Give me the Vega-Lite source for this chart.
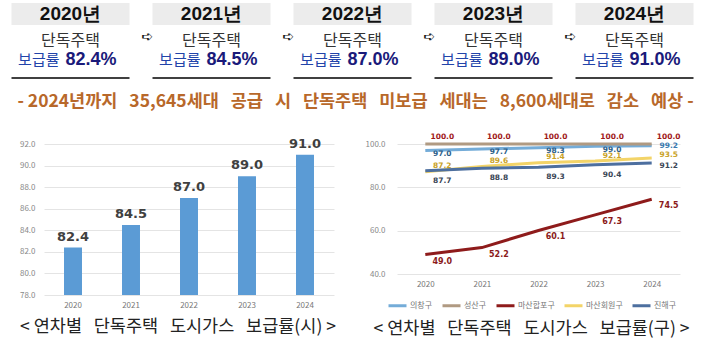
{
  "$schema": "https://vega.github.io/schema/vega-lite/v6.json",
  "background": "white",
  "padding": {"left": 0, "top": 3, "right": 0, "bottom": 0},
  "config": {"view": {"stroke": null}, "font": "Noto Sans CJK KR", "axis": {"labelFont": "Noto Sans CJK KR"}},
  "datasets": {
    "rates": [
      {"연도": "2020", "연도표기": "2020년", "보급률": 82.4, "라벨": "82.4%"},
      {"연도": "2021", "연도표기": "2021년", "보급률": 84.5, "라벨": "84.5%"},
      {"연도": "2022", "연도표기": "2022년", "보급률": 87.0, "라벨": "87.0%"},
      {"연도": "2023", "연도표기": "2023년", "보급률": 89.0, "라벨": "89.0%"},
      {"연도": "2024", "연도표기": "2024년", "보급률": 91.0, "라벨": "91.0%"}
    ],
    "gu": [
      {"구": "의창구", "연도": "2020", "보급률": 97.0},
      {"구": "의창구", "연도": "2021", "보급률": 97.7},
      {"구": "의창구", "연도": "2022", "보급률": 98.3},
      {"구": "의창구", "연도": "2023", "보급률": 99.0},
      {"구": "의창구", "연도": "2024", "보급률": 99.2},
      {"구": "성산구", "연도": "2020", "보급률": 100.0},
      {"구": "성산구", "연도": "2021", "보급률": 100.0},
      {"구": "성산구", "연도": "2022", "보급률": 100.0},
      {"구": "성산구", "연도": "2023", "보급률": 100.0},
      {"구": "성산구", "연도": "2024", "보급률": 100.0},
      {"구": "마산합포구", "연도": "2020", "보급률": 49.0},
      {"구": "마산합포구", "연도": "2021", "보급률": 52.2},
      {"구": "마산합포구", "연도": "2022", "보급률": 60.1},
      {"구": "마산합포구", "연도": "2023", "보급률": 67.3},
      {"구": "마산합포구", "연도": "2024", "보급률": 74.5},
      {"구": "마산회원구", "연도": "2020", "보급률": 87.2},
      {"구": "마산회원구", "연도": "2021", "보급률": 89.6},
      {"구": "마산회원구", "연도": "2022", "보급률": 91.4},
      {"구": "마산회원구", "연도": "2023", "보급률": 92.1},
      {"구": "마산회원구", "연도": "2024", "보급률": 93.5},
      {"구": "진해구", "연도": "2020", "보급률": 87.7},
      {"구": "진해구", "연도": "2021", "보급률": 88.8},
      {"구": "진해구", "연도": "2022", "보급률": 89.3},
      {"구": "진해구", "연도": "2023", "보급률": 90.4},
      {"구": "진해구", "연도": "2024", "보급률": 91.2}
    ]
  },
  "columns": 1,
  "align": "none",
  "spacing": 22,
  "resolve": {"legend": {"color": "independent"}},
  "concat": [
    {
      "width": 661,
      "height": 64,
      "data": {"name": "rates"},
      "title": {
        "text": "- 2024년까지\u00a0\u00a0 35,645세대\u00a0\u00a0 공급\u00a0\u00a0 시\u00a0\u00a0 단독주택\u00a0\u00a0 미보급\u00a0\u00a0 세대는\u00a0\u00a0 8,600세대로\u00a0\u00a0 감소\u00a0\u00a0 예상 -",
        "orient": "bottom", "offset": 14, "fontSize": 17.5, "fontWeight": "bold",
        "color": "#b8682a", "anchor": "middle", "dx": -19
      },
      "encoding": {
        "x": {"field": "연도", "type": "nominal", "scale": {"type": "band", "paddingInner": 0, "paddingOuter": 0, "range": [-44, 661]}, "axis": null}
      },
      "layer": [
        {
          "mark": {"type": "tick", "orient": "horizontal", "size": 118, "thickness": 22, "color": "#ececec", "opacity": 1},
          "encoding": {"y": {"datum": "연도", "type": "nominal", "scale": {"type": "point", "domain": ["연도", "주택", "보급률", "선"], "padding": 0}, "axis": null}}
        },
        {
          "mark": {"type": "text", "fontSize": 19, "fontWeight": "bold", "font": "Liberation Sans", "color": "#111111"},
          "encoding": {
            "y": {"datum": "연도", "type": "nominal", "scale": {"type": "point", "domain": ["연도", "주택", "보급률", "선"], "padding": 0}, "axis": null},
            "text": {"field": "연도표기"}
          }
        },
        {
          "mark": {"type": "text", "fontSize": 16, "dy": 6, "color": "#333333"},
          "encoding": {
            "y": {"datum": "주택", "type": "nominal", "scale": {"type": "point", "domain": ["연도", "주택", "보급률", "선"], "padding": 0}, "axis": null},
            "text": {"value": "단독주택"}
          }
        },
        {
          "mark": {"type": "text", "fontSize": 15, "dy": 3, "dx": -11, "align": "right", "color": "#2244aa"},
          "encoding": {
            "y": {"datum": "보급률", "type": "nominal", "scale": {"type": "point", "domain": ["연도", "주택", "보급률", "선"], "padding": 0}, "axis": null},
            "text": {"value": "보급률"}
          }
        },
        {
          "mark": {"type": "text", "fontSize": 18, "dy": 3, "dx": -5, "align": "left", "fontWeight": "bold", "font": "Liberation Sans", "color": "#1a1a7a"},
          "encoding": {
            "y": {"datum": "보급률", "type": "nominal", "scale": {"type": "point", "domain": ["연도", "주택", "보급률", "선"], "padding": 0}, "axis": null},
            "text": {"field": "라벨"}
          }
        },
        {
          "mark": {"type": "tick", "orient": "horizontal", "size": 118, "thickness": 2, "color": "#404040", "opacity": 1},
          "encoding": {"y": {"datum": "선", "type": "nominal", "scale": {"type": "point", "domain": ["연도", "주택", "보급률", "선"], "padding": 0}, "axis": null}}
        },
        {
          "transform": [{"filter": "datum['연도'] != '2024'"}],
          "mark": {"type": "text", "fontSize": 14, "dx": 6, "dy": 2, "font": "DejaVu Sans", "color": "#111111"},
          "encoding": {
            "x": {"field": "연도", "type": "nominal", "bandPosition": 1},
            "y": {"datum": "주택", "type": "nominal", "scale": {"type": "point", "domain": ["연도", "주택", "보급률", "선"], "padding": 0}, "axis": null},
            "text": {"value": "➪"}
          }
        }
      ]
    },
    {
      "spacing": 21,
      "resolve": {"legend": {"color": "independent"}},
      "hconcat": [
        {
          "width": 290,
          "height": 151,
          "data": {"name": "rates"},
          "title": {
            "text": "<\u00a0연차별\u00a0\u00a0\u00a0단독주택\u00a0\u00a0\u00a0도시가스\u00a0\u00a0\u00a0보급률(시)\u00a0>",
            "orient": "bottom", "offset": 9, "fontSize": 17.5, "fontWeight": "normal", "color": "#222222", "anchor": "middle", "dx": -11
          },
          "encoding": {
            "x": {"field": "연도", "type": "ordinal", "scale": {"paddingInner": 0.69, "paddingOuter": 0.345},
              "axis": {"title": null, "labelAngle": 0, "labelFontSize": 8, "labelColor": "#777777", "ticks": false, "domain": false, "labelPadding": 6}},
            "y": {"field": "보급률", "type": "quantitative", "scale": {"domain": [78, 92], "zero": false, "nice": false},
              "axis": {"title": null, "values": [78, 80, 82, 84, 86, 88, 90, 92], "format": ".1f", "labelOverlap": false, "labelFontSize": 8, "labelColor": "#888888", "domain": false, "ticks": false, "gridColor": "#e4e4e4", "labelPadding": 9, "minExtent": 44, "maxExtent": 44}}
          },
          "layer": [
            {
              "mark": {"type": "bar", "color": "#5b9bd5"},
              "encoding": {"y2": {"datum": 78}}
            },
            {
              "mark": {"type": "text", "dy": -11, "fontSize": 13, "fontWeight": "bold", "font": "DejaVu Sans", "color": "#404040"},
              "encoding": {
                "text": {"field": "보급률", "type": "quantitative", "format": ".1f"}
              }
            }
          ]
        },
        {
          "width": 283,
          "height": 130,
          "data": {"name": "gu"},
          "title": {
            "text": "<\u00a0연차별\u00a0\u00a0\u00a0단독주택\u00a0\u00a0\u00a0도시가스\u00a0\u00a0\u00a0보급률(구)\u00a0>",
            "orient": "bottom", "offset": 8, "fontSize": 17.5, "fontWeight": "normal", "color": "#222222", "anchor": "middle", "dx": -7
          },
          "encoding": {
            "x": {"field": "연도", "type": "ordinal", "scale": {"type": "point", "padding": 0.5},
              "axis": {"title": null, "labelAngle": 0, "labelFontSize": 8, "labelColor": "#777777", "ticks": false, "domain": false, "labelPadding": 6}},
            "y": {"field": "보급률", "type": "quantitative", "scale": {"domain": [40, 100], "zero": false, "nice": false},
              "axis": {"title": null, "values": [40, 60, 80, 100], "format": ".1f", "labelFontSize": 8, "labelColor": "#888888", "domain": false, "ticks": false, "gridColor": "#e4e4e4", "labelPadding": 12, "minExtent": 40, "maxExtent": 40}}
          },
          "layer": [
            {
              "mark": {"type": "line", "strokeWidth": 3},
              "encoding": {
                "color": {"field": "구", "type": "nominal",
                  "scale": {"domain": ["의창구", "성산구", "마산합포구", "마산회원구", "진해구"], "range": ["#74acd8", "#b09a82", "#8e1b1b", "#f3d468", "#4d6f9f"]},
                  "legend": {"orient": "none", "legendX": -10, "legendY": 151, "direction": "horizontal", "title": null, "symbolType": "stroke", "symbolStrokeWidth": 3, "symbolSize": 324, "labelFontSize": 8, "labelColor": "#777777", "columnPadding": 3, "labelOffset": 2, "padding": 0}}
              }
            },
            {
              "transform": [{"filter": "datum['구'] == '성산구'"}],
              "mark": {"type": "text", "dx": 17, "dy": -7, "fontSize": 7.5, "fontWeight": "bold", "font": "DejaVu Sans", "color": "#a01818"},
              "encoding": {"text": {"field": "보급률", "type": "quantitative", "format": ".1f"}}
            },
            {
              "transform": [{"filter": "datum['구'] == '의창구' && datum['연도'] != '2024'"}],
              "mark": {"type": "text", "dx": 17, "dy": 3.5, "fontSize": 7.5, "fontWeight": "bold", "font": "DejaVu Sans", "color": "#2d5f8a"},
              "encoding": {"text": {"field": "보급률", "type": "quantitative", "format": ".1f"}}
            },
            {
              "transform": [{"filter": "datum['구'] == '의창구' && datum['연도'] == '2024'"}],
              "mark": {"type": "text", "dx": 17, "dy": 0.5, "fontSize": 7.5, "fontWeight": "bold", "font": "DejaVu Sans", "color": "#3a7ab0"},
              "encoding": {"text": {"field": "보급률", "type": "quantitative", "format": ".1f"}}
            },
            {
              "transform": [{"filter": "datum['구'] == '마산회원구' && datum['연도'] != '2024'"}],
              "mark": {"type": "text", "dx": 17, "dy": -5.5, "fontSize": 7.5, "fontWeight": "bold", "font": "DejaVu Sans", "color": "#c9a227"},
              "encoding": {"text": {"field": "보급률", "type": "quantitative", "format": ".1f"}}
            },
            {
              "transform": [{"filter": "datum['구'] == '마산회원구' && datum['연도'] == '2024'"}],
              "mark": {"type": "text", "dx": 17, "dy": -3, "fontSize": 7.5, "fontWeight": "bold", "font": "DejaVu Sans", "color": "#c9a227"},
              "encoding": {"text": {"field": "보급률", "type": "quantitative", "format": ".1f"}}
            },
            {
              "transform": [{"filter": "datum['구'] == '진해구' && datum['연도'] != '2024'"}],
              "mark": {"type": "text", "dx": 17, "dy": 10, "fontSize": 7.5, "fontWeight": "bold", "font": "DejaVu Sans", "color": "#3a4656"},
              "encoding": {"text": {"field": "보급률", "type": "quantitative", "format": ".1f"}}
            },
            {
              "transform": [{"filter": "datum['구'] == '진해구' && datum['연도'] == '2024'"}],
              "mark": {"type": "text", "dx": 17, "dy": 2.5, "fontSize": 7.5, "fontWeight": "bold", "font": "DejaVu Sans", "color": "#3a4656"},
              "encoding": {"text": {"field": "보급률", "type": "quantitative", "format": ".1f"}}
            },
            {
              "transform": [{"filter": "datum['구'] == '마산합포구'"}],
              "mark": {"type": "text", "dx": 17, "dy": 7, "fontSize": 8, "fontWeight": "bold", "font": "DejaVu Sans", "color": "#8b1a1a"},
              "encoding": {"text": {"field": "보급률", "type": "quantitative", "format": ".1f"}}
            }
          ]
        }
      ]
    }
  ]
}
